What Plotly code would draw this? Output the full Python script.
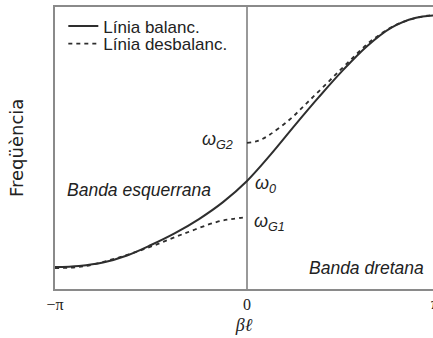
import math
import plotly.graph_objects as go

PI = math.pi

# --- data (beta in units of pi, normalised frequency) ---
beta_bal = [-1.0, -0.875, -0.75, -0.625, -0.5, -0.375, -0.25, -0.125, 0.0,
            0.125, 0.25, 0.375, 0.5, 0.625, 0.75, 0.875, 1.0]
freq_bal = [0.078, 0.082, 0.094, 0.119, 0.156, 0.198, 0.248, 0.308, 0.383,
            0.478, 0.581, 0.681, 0.776, 0.861, 0.926, 0.961, 0.971]

beta_unb_low = [-1.0, -0.854, -0.677, -0.505, -0.333, -0.156, -0.07, 0.0]
freq_unb_low = [0.074, 0.080, 0.110, 0.149, 0.195, 0.238, 0.249, 0.255]
beta_unb_high = [0.0, 0.06, 0.12, 0.224, 0.3125, 0.417, 0.521, 0.656, 0.797, 0.9375, 1.0]
freq_unb_high = [0.518, 0.526, 0.548, 0.602, 0.660, 0.730, 0.800, 0.885, 0.943, 0.969, 0.973]

tick_vals = [-PI, 0.0, PI]
tick_text = ["\u2212\u03c0", "0", "\u03c0"]

omega_0 = 0.383
omega_g1 = 0.255
omega_g2 = 0.518

series_names = ["L\u00ednia balanc.", "L\u00ednia desbalanc."]

LINE = "#2e2e2e"
AX = "#8a8a8a"

fig = go.Figure()
fig.add_trace(go.Scatter(
    x=[b * PI for b in beta_bal], y=freq_bal, mode="lines",
    line=dict(color=LINE, width=2, shape="spline"), name=series_names[0], legend="legend"))
unb_x = [b * PI for b in beta_unb_low] + [None] + [b * PI for b in beta_unb_high]
unb_y = freq_unb_low + [None] + freq_unb_high
fig.add_trace(go.Scatter(
    x=unb_x, y=unb_y, mode="lines", connectgaps=False,
    line=dict(color=LINE, width=1.8, dash="4px,4px", shape="spline"), name=series_names[1],
    legend="legend2"))

x_right = (433 - 247) / 192 * PI
leg_font = dict(family="Liberation Sans, Arial", size=17, color="#222")

fig.update_layout(
    width=433, height=338,
    margin=dict(l=55, r=0, t=7, b=49),
    paper_bgcolor="white", plot_bgcolor="white",
    showlegend=True,
    legend=dict(x=0.022, y=(289 - 26.5) / 282, xanchor="left", yanchor="middle",
                bgcolor="rgba(0,0,0,0)", borderwidth=0, font=leg_font),
    legend2=dict(x=0.022, y=(289 - 44) / 282, xanchor="left", yanchor="middle",
                 bgcolor="rgba(0,0,0,0)", borderwidth=0, font=leg_font),
    xaxis=dict(range=[-PI, x_right], tickvals=tick_vals, ticktext=tick_text,
               showgrid=False, zeroline=True, zerolinecolor="#999", zerolinewidth=2,
               showline=True, linecolor=AX, linewidth=2, mirror=True, ticks="",
               tickfont=dict(family="Liberation Serif, Times New Roman", size=16, color="#222"),
               title=dict(text="<i>\u03b2\u2113</i>", standoff=6,
                          font=dict(family="Liberation Serif, Times New Roman", size=18, color="#222"))),
    yaxis=dict(range=[0, 1], showticklabels=False, showgrid=False, zeroline=False,
               showline=True, linecolor=AX, linewidth=2, ticks=""),
)

ann_font = dict(family="Liberation Sans, Arial", size=18, color="#222")
fig.add_annotation(x=0, y=omega_g2, xref="x", yref="y", text="<i>\u03c9<sub>G2</sub></i>",
                   showarrow=False, xanchor="right", yanchor="middle", xshift=-12, yshift=2, font=ann_font)
fig.add_annotation(x=0, y=omega_0, xref="x", yref="y", text="<i>\u03c9<sub>0</sub></i>",
                   showarrow=False, xanchor="left", yanchor="middle", xshift=6, yshift=-4, font=ann_font)
fig.add_annotation(x=0, y=omega_g1, xref="x", yref="y", text="<i>\u03c9<sub>G1</sub></i>",
                   showarrow=False, xanchor="left", yanchor="middle", xshift=5, yshift=-5, font=ann_font)
fig.add_annotation(x=-0.5625 * PI, y=0.351, xref="x", yref="y", text="<i>Banda esquerrana</i>",
                   showarrow=False, xanchor="center", yanchor="middle",
                   font=dict(family="Liberation Sans, Arial", size=17.5, color="#222"))
fig.add_annotation(x=0.62 * PI, y=0.074, xref="x", yref="y", text="<i>Banda dretana</i>",
                   showarrow=False, xanchor="center", yanchor="middle",
                   font=dict(family="Liberation Sans, Arial", size=17.5, color="#222"))
fig.add_annotation(x=-39 / 378, y=0.5, xref="paper", yref="paper", text="Freq\u00fc\u00e8ncia",
                   textangle=-90, showarrow=False, xanchor="center", yanchor="middle",
                   font=dict(family="DejaVu Sans", size=18, color="#222"))
# right-hand tick label, only partly inside the picture
fig.add_annotation(x=1.0, y=-(303 - 289) / 282, xref="paper", yref="paper", text=tick_text[2],
                   showarrow=False, xanchor="left", yanchor="middle", xshift=-4,
                   font=dict(family="Liberation Serif, Times New Roman", size=16, color="#222"))

fig.write_html("out.html")
